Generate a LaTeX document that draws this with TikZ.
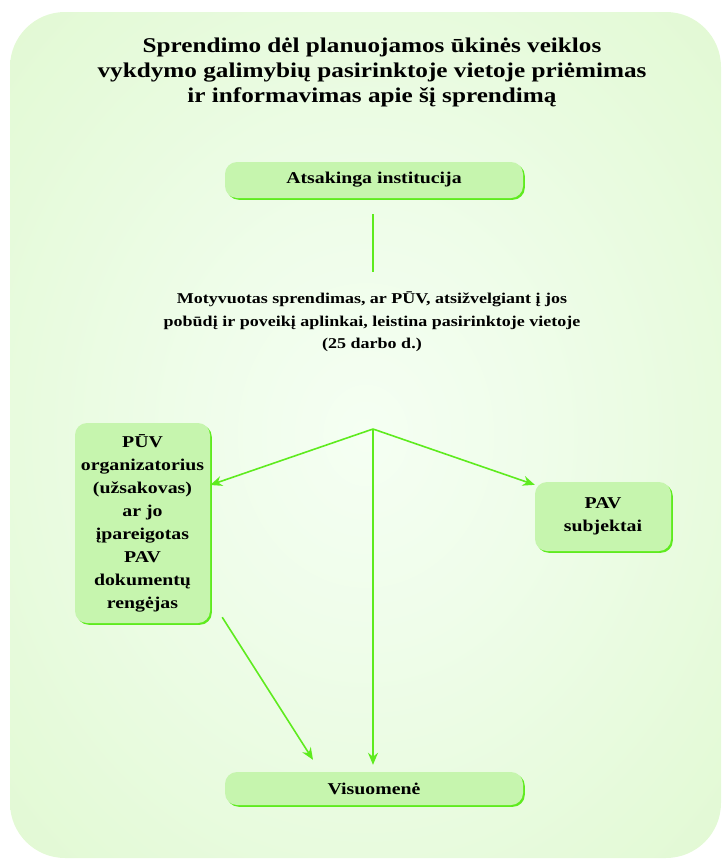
\documentclass[tikz,border=0pt]{standalone}
\usepackage{fontspec}
\setmainfont{Liberation Serif}[FakeStretch=1.2]
\usetikzlibrary{arrows.meta,shadows}
\definecolor{boxfill}{HTML}{C6F5AE}
\definecolor{edge}{HTML}{5EEB1E}
\definecolor{bgA}{HTML}{F5FFF3}
\definecolor{bgB}{HTML}{EFFDEA}
\definecolor{bgC}{HTML}{E2F9D4}
\definecolor{bgD}{HTML}{D8F7C4}
\definecolor{bgE}{HTML}{CCF3B0}
\pgfdeclareradialshading{bgshade}{\pgfpoint{0bp}{0bp}}{color(0bp)=(bgA); color(12bp)=(bgB); color(35bp)=(bgC); color(50bp)=(bgD); color(72bp)=(bgE)}
\tikzset{
  gbox/.style={fill=boxfill, rounded corners=12pt, draw=none, align=center,
    inner sep=0pt, font=\bfseries\fontsize{16.5}{23}\selectfont,
    drop shadow={shadow xshift=1.8pt, shadow yshift=-1.8pt, fill=edge, opacity=1}},
  titletext/.style={align=center, font=\bfseries\fontsize{21}{25}\selectfont, inner sep=0pt},
  midtext/.style={align=center, font=\bfseries\fontsize{15}{22.5}\selectfont, inner sep=0pt},
  gline/.style={draw=edge, line width=1.6pt},
  conn/.style={gline, -{Stealth[length=12pt,width=10pt]}}
}
\begin{document}
\begin{tikzpicture}[x=1pt,y=-1pt]
\useasboundingbox (0,0) rectangle (722,860);
\shade[shading=bgshade, rounded corners=55pt] (10,12) rectangle (721,858);

\node[titletext] (title) at (372,72) {Sprendimo dėl planuojamos ūkinės veiklos\\ vykdymo galimybių pasirinktoje vietoje priėmimas\\ ir informavimas apie šį sprendimą};

\node[gbox, minimum width=298pt, minimum height=36pt] (inst) at (374,180) {Atsakinga institucija};

\coordinate (v1) at (373,214);
\coordinate (v2) at (373,272);

\node[midtext] (dec) at (372,322) {Motyvuotas sprendimas, ar PŪV, atsižvelgiant į jos\\ pobūdį ir poveikį aplinkai, leistina pasirinktoje vietoje\\ (25 darbo d.)};

\coordinate (split) at (373,429);

\node[gbox, minimum width=135pt, minimum height=200pt] (org) at (142.5,523) {PŪV\\ organizatorius\\ (užsakovas)\\ ar jo\\ įpareigotas\\ PAV\\ dokumentų\\ rengėjas};
\node[gbox, minimum width=136pt, minimum height=69pt] (subj) at (603,516.5) {PAV\\ subjektai};
\node[gbox, minimum width=298pt, minimum height=33pt] (pub) at (374,788.5) {Visuomenė};

\coordinate (pubtop) at ([yshift=7pt]pub.north);

\draw[gline] (v1) -- (v2);
\draw[conn] (split) -- ([yshift=38pt]org.east);
\draw[conn] (split) -- ([yshift=-3pt]subj.north west);
\draw[conn] (split) -- (split |- pubtop);
\draw[conn] ([xshift=12pt,yshift=6pt]org.south east) -- ([xshift=-61pt,yshift=12pt]pub.north);
\end{tikzpicture}
\end{document}
